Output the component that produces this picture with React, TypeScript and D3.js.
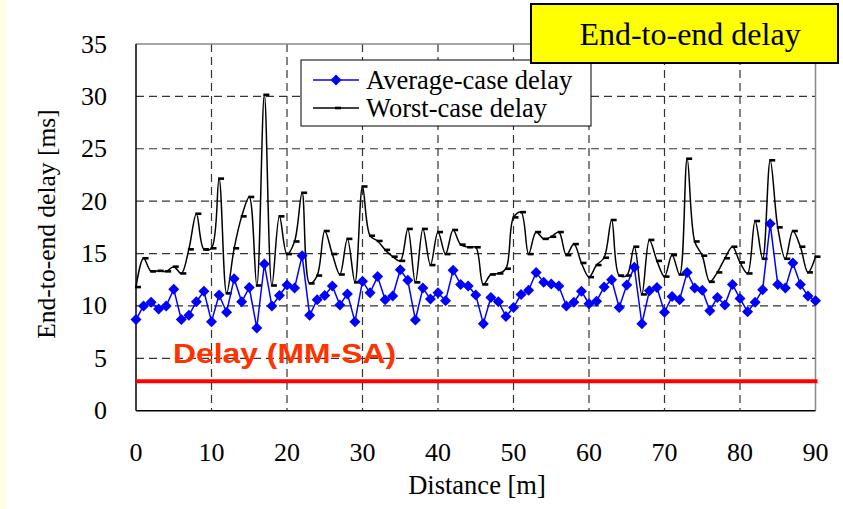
import React from "react";
import * as d3 from "d3";

const WIDTH = 843;
const HEIGHT = 509;
const MARGIN = { top: 44, right: 27.5, bottom: 98.3, left: 136 };

// distance in metres, one sample per metre
const distances = d3.range(0, 91);

const avgDelay = [
  8.7, 10.0, 10.35, 9.7, 10.0, 11.6, 8.7, 9.1, 10.4, 11.4, 8.5, 11.05, 9.4, 12.6, 10.4, 11.75, 7.9, 14.0,
  10.0, 11.0, 12.0, 11.7, 14.8, 9.1, 10.6, 11.0, 11.9, 10.1, 11.15, 8.5, 12.35, 11.25, 12.8, 10.6, 10.95, 13.45,
  12.45, 8.66, 11.7, 10.65, 11.25, 10.5, 13.4, 12.05, 11.9, 11.05, 8.3, 10.8, 10.4, 9.0, 9.85, 11.1, 11.5, 13.2,
  12.25, 12.1, 11.9, 10.0, 10.35, 11.4, 10.2, 10.45, 11.8, 12.5, 9.85, 12.0, 13.7, 8.3, 11.45, 11.75, 9.4, 10.9,
  10.6, 13.2, 11.7, 11.5, 9.55, 10.8, 10.1, 12.05, 10.7, 9.45, 10.35, 11.55, 17.85, 12.05, 11.7, 14.1, 12.05, 10.95, 10.5,
];

const worstDelay = [
  11.8, 14.55, 13.3, 13.35, 13.3, 13.75, 13.1, 15.4, 18.8, 15.4, 15.5, 22.15, 11.2, 15.5, 18.55, 20.4, 11.95, 30.15,
  11.95, 18.55, 14.95, 16.15, 20.8, 12.15, 12.9, 17.15, 14.95, 13.0, 16.4, 12.25, 21.4, 16.7, 16.2, 15.35, 14.7, 14.3,
  17.35, 12.25, 17.35, 13.9, 17.05, 14.95, 17.25, 15.85, 15.6, 15.6, 12.05, 13.0, 13.1, 13.55, 18.45, 18.95, 14.95, 17.05,
  16.4, 16.6, 17.05, 14.85, 15.9, 14.1, 12.75, 13.9, 14.6, 18.2, 12.9, 12.9, 15.65, 11.1, 16.3, 14.3, 12.8, 14.85,
  13.0, 24.05, 16.15, 14.8, 12.3, 13.2, 14.55, 15.65, 14.15, 13.1, 18.1, 14.5, 23.9, 17.5, 14.5, 17.15, 15.65, 13.2, 14.7,
];

const mmSaDelay = 2.8;

const xTicks = [0, 10, 20, 30, 40, 50, 60, 70, 80, 90];
const yTicks = [0, 5, 10, 15, 20, 25, 30, 35];

const SERIF = "'Liberation Serif', 'Times New Roman', serif";
const SANS = "'Liberation Sans', Arial, sans-serif";

export default function App() {
  const boundsWidth = WIDTH - MARGIN.left - MARGIN.right;
  const boundsHeight = HEIGHT - MARGIN.top - MARGIN.bottom;

  const xScale = d3.scaleLinear().domain([0, 90]).range([0, boundsWidth]);
  const yScale = d3.scaleLinear().domain([0, 35]).range([boundsHeight, 0]);

  const avgLine = d3
    .line<number>()
    .x((d, i) => xScale(distances[i]))
    .y((d) => yScale(d));

  // worst case is drawn as a smoothed line
  const worstLine = d3
    .line<number>()
    .x((d, i) => xScale(distances[i]))
    .y((d) => yScale(d))
    .curve(d3.curveCatmullRom.alpha(0.5));

  const diamond = (cx: number, cy: number, r: number) =>
    `M${cx},${cy - r}L${cx + r},${cy}L${cx},${cy + r}L${cx - r},${cy}Z`;

  // dashed grid inside the plot area
  const grid = (
    <g>
      {yTicks.slice(1, -1).map((v) => (
        <line
          key={"h" + v}
          x1={0}
          x2={boundsWidth}
          y1={yScale(v)}
          y2={yScale(v)}
          stroke="#333"
          strokeWidth={1.2}
          strokeDasharray="8 5"
        />
      ))}
      {xTicks.slice(1, -1).map((v) => (
        <line
          key={"v" + v}
          x1={xScale(v)}
          x2={xScale(v)}
          y1={0}
          y2={boundsHeight}
          stroke="#333"
          strokeWidth={1.2}
          strokeDasharray="8 5"
        />
      ))}
    </g>
  );

  return (
    <svg
      width={WIDTH}
      height={HEIGHT}
      style={{ position: "absolute", left: 0, top: 0, background: "#fff" }}
    >
      <rect x={0} y={0} width={7} height={HEIGHT} fill="#FFFFE6" />

      <g transform={`translate(${MARGIN.left},${MARGIN.top})`}>
        {grid}

        {/* frame */}
        <line x1={0} x2={boundsWidth} y1={0} y2={0} stroke="#888" strokeWidth={1.5} />
        <line x1={boundsWidth} x2={boundsWidth} y1={0} y2={boundsHeight} stroke="#888" strokeWidth={1.5} />
        <line x1={0} x2={0} y1={0} y2={boundsHeight} stroke="#000" strokeWidth={1.5} />
        <line x1={0} x2={boundsWidth} y1={boundsHeight} y2={boundsHeight} stroke="#000" strokeWidth={1.5} />

        {/* MM-SA reference line */}
        <line
          x1={0}
          x2={boundsWidth + 2}
          y1={yScale(mmSaDelay)}
          y2={yScale(mmSaDelay)}
          stroke="#FF0000"
          strokeWidth={4}
        />
        <text
          x={37}
          y={319}
          fontFamily={SANS}
          fontWeight="bold"
          fontSize={28}
          fill="#FF3300"
          textLength={223}
          lengthAdjust="spacingAndGlyphs"
        >
          Delay (MM-SA)
        </text>

        {/* worst case */}
        <path d={worstLine(worstDelay) || ""} fill="none" stroke="#000" strokeWidth={1.5} />
        {worstDelay.map((v, i) => (
          <rect
            key={"w" + i}
            x={xScale(distances[i]) - 1}
            y={yScale(v) - 1.3}
            width={6}
            height={2.6}
            fill="#000"
          />
        ))}

        {/* average case */}
        <path d={avgLine(avgDelay) || ""} fill="none" stroke="#0000FF" strokeWidth={1.5} />
        {avgDelay.map((v, i) => (
          <path key={"a" + i} d={diamond(xScale(distances[i]), yScale(v), 5.5)} fill="#0000FF" />
        ))}

        {/* tick labels */}
        {yTicks.map((v) => (
          <text
            key={"yl" + v}
            x={-29}
            y={yScale(v) + 8.5}
            textAnchor="end"
            fontFamily={SERIF}
            fontSize={26}
          >
            {v}
          </text>
        ))}
        {xTicks.map((v) => (
          <text
            key={"xl" + v}
            x={xScale(v)}
            y={boundsHeight + 50}
            textAnchor="middle"
            fontFamily={SERIF}
            fontSize={26}
          >
            {v}
          </text>
        ))}
      </g>

      {/* axis titles */}
      <text x={477} y={494} textAnchor="middle" fontFamily={SERIF} fontSize={26.5}>
        Distance [m]
      </text>
      <text
        transform="translate(55,224) rotate(-90)"
        textAnchor="middle"
        fontFamily={SERIF}
        fontSize={25.5}
      >
        End-to-end delay [ms]
      </text>

      {/* legend */}
      <g>
        <rect x={301} y={60} width={290} height={66} fill="#fff" stroke="#000" strokeWidth={1} />
        <line x1={313} x2={359} y1={80} y2={80} stroke="#0000FF" strokeWidth={1.5} />
        <path d={diamond(336, 80, 5.5)} fill="#0000FF" />
        <text x={366} y={89} fontFamily={SERIF} fontSize={26.5}>
          Average-case delay
        </text>
        <line x1={313} x2={359} y1={108} y2={108} stroke="#000" strokeWidth={1.5} />
        <rect x={335} y={106.7} width={6} height={2.6} fill="#000" />
        <text x={366} y={117} fontFamily={SERIF} fontSize={26.5}>
          Worst-case delay
        </text>
      </g>

      {/* title box */}
      <rect x={531} y={4} width={307} height={59} fill="#FFFF00" stroke="#000" strokeWidth={2} />
      <text x={690} y={45} textAnchor="middle" fontFamily={SERIF} fontSize={32}>
        End-to-end delay
      </text>
    </svg>
  );
}
